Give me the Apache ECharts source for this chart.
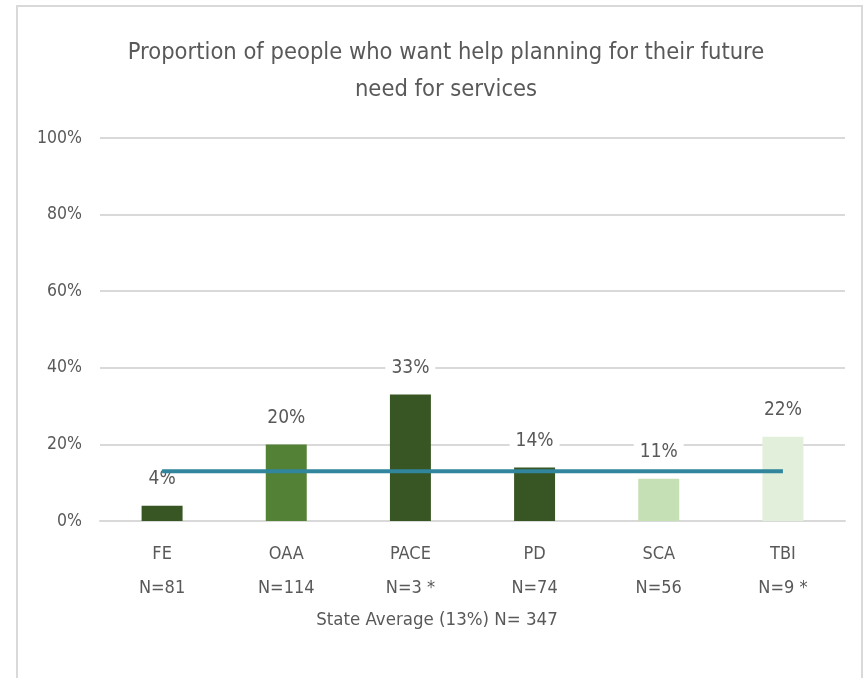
<!DOCTYPE html>
<html>
<head>
<meta charset="utf-8">
<script src="https://cdn.jsdelivr.net/npm/echarts@6/dist/echarts.min.js"></script>
<style>
  html, body { margin: 0; padding: 0; background: #ffffff; }
  #chart { width: 863px; height: 678px; }
</style>
</head>
<body>
<div id="chart"></div>
<script>
// Programs and their respondent counts
const programs = ['FE', 'OAA', 'PACE', 'PD', 'SCA', 'TBI'];
const sampleSizes = ['N=81', 'N=114', 'N=3 *', 'N=74', 'N=56', 'N=9 *'];
// Share of people wanting help planning (%)
const shares = [4, 20, 33, 14, 11, 22];
// Statewide average (%) shown as a reference line
const stateAverage = [13, 13, 13, 13, 13, 13];
const yTicks = [0, 20, 40, 60, 80, 100];

const barColors = ['#375623', '#538135', '#375623', '#375623', '#C5E0B4', '#E2EFDA'];
const FONT = '"Liberation Sans Narrow", "DejaVu Sans Condensed", "Open Sans", sans-serif';
const TEXT = '#595959';

const chart = echarts.init(document.getElementById('chart'));
chart.setOption({
  backgroundColor: '#ffffff',
  animation: false,
  title: {
    text: 'Proportion of people who want help planning for their future\nneed for services',
    left: 441,
    top: 29,
    textAlign: 'center',
    textStyle: { fontFamily: FONT, fontSize: 23.5, fontWeight: 'normal', color: TEXT, lineHeight: 37 }
  },
  graphic: [
    {
      type: 'rect',
      shape: { x: 17, y: 6, width: 845, height: 700 },
      style: { fill: 'none', stroke: '#D9D9D9', lineWidth: 2 },
      silent: true
    },
    {
      type: 'text',
      x: 437,
      y: 620,
      style: {
        text: 'State Average (13%) N= 347',
        fontFamily: FONT, fontSize: 18.5, fill: TEXT,
        textAlign: 'center', textVerticalAlign: 'middle'
      }
    }
  ],
  grid: { left: 100, right: 18, top: 138, bottom: 157, containLabel: false },
  xAxis: {
    type: 'category',
    data: programs.map((p, i) => p + '\n' + sampleSizes[i]),
    axisLine: { show: true, lineStyle: { color: '#D9D9D9', width: 2 } },
    axisTick: { show: false },
    axisLabel: { fontFamily: FONT, fontSize: 18, color: TEXT, lineHeight: 34, margin: 16 }
  },
  yAxis: {
    type: 'value',
    min: 0,
    max: 100,
    interval: 20,
    axisLine: { show: false },
    axisTick: { show: false },
    splitLine: { lineStyle: { color: '#D9D9D9', width: 2 } },
    axisLabel: {
      fontFamily: FONT, fontSize: 17.5, color: TEXT, margin: 18,
      formatter: v => (yTicks.includes(v) ? v + '%' : '')
    }
  },
  series: [
    {
      type: 'bar',
      data: shares.map((v, i) => ({ value: v, itemStyle: { color: barColors[i] } })),
      barWidth: '33%',
      z: 2,
      label: {
        show: true,
        position: 'top',
        distance: 15,
        formatter: '{c}%',
        fontFamily: FONT, fontSize: 19, color: TEXT,
        backgroundColor: '#ffffff',
        padding: [2, 6]
      }
    },
    {
      type: 'line',
      data: stateAverage,
      symbol: 'none',
      z: 3,
      lineStyle: { color: '#31859C', width: 4 },
      itemStyle: { color: '#31859C' }
    }
  ]
});
</script>
</body>
</html>
